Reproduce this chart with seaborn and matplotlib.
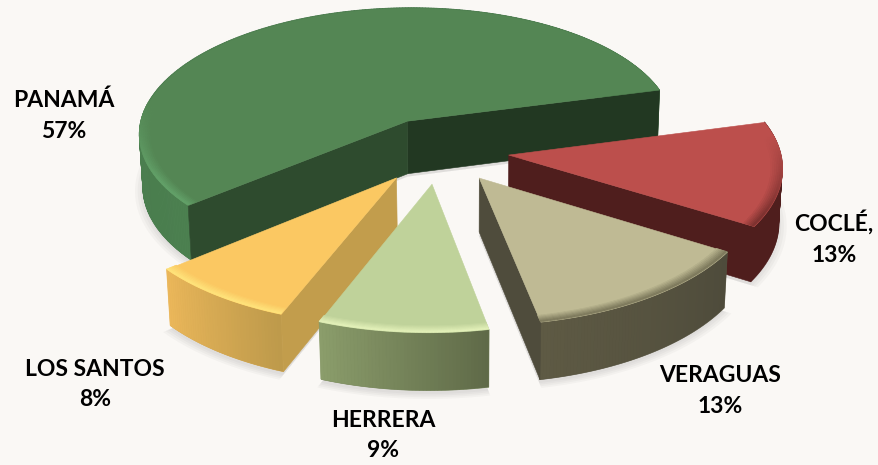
import numpy as np
import matplotlib
matplotlib.use("Agg")
import matplotlib.pyplot as plt
from matplotlib.colors import to_rgb
from mpl_toolkits.mplot3d.art3d import Poly3DCollection
import seaborn as sns

categories = ["PANAMÁ", "LOS SANTOS", "HERRERA", "VERAGUAS", "COCLÉ,"]
values = [57, 8, 9, 13, 13]

top_colors = ["#548654", "#FBC862", "#BFD29A", "#BFBA94", "#BC4F4C"]
rim_colors = ["#62A068", "#FFE27A", "#E2F0B8", "#7F7B5E", "#7E3230"]
arc_start = ["#3F6F44", "#EBB75A", "#8B9D6B", "#5E5A44", "#4F1E1D"]
arc_end = ["#4C8050", "#BE9A4B", "#5F6A48", "#4E4B3B", "#4F1E1D"]
wall_start = ["#223822", None, None, "#4F4C3C", "#4F1E1D"]
wall_end = ["#2E4B2E", "#C29D4C", None, None, None]
draw_rank = [1, 3, 5, 4, 2]
label_px = [(64, 116), (95, 384.5), (383, 435.5), (720, 391), (834, 238)]

W, H = 879, 465
BG = "#FAF8F5"
START = 15.0
EXPLODE = 0.26
DEPTH = 0.225
RIM = 0.04
SHIFT_X, SHIFT_Y = 14, 58

sns.set_theme(style="white")
plt.rcParams["font.family"] = ["Lato", "DejaVu Sans"]
palette = sns.color_palette(top_colors)

fig = plt.figure(figsize=(W / 100, H / 100), dpi=100, facecolor=BG)
ax = fig.add_axes([SHIFT_X / W, ((H - W) / 2 + SHIFT_Y) / H, 1, W / H], projection="3d", computed_zorder=False)
ax.set_proj_type("persp", focal_length=0.55)
ax.view_init(elev=28.5, azim=-90)
ax.set_axis_off()
ax.patch.set_alpha(0)
CX, CY = 0.1, -0.1
SPAN = 1.45
ax.set_xlim(CX - SPAN, CX + SPAN)
ax.set_ylim(CY - SPAN, CY + SPAN)
ax.set_zlim(-SPAN, SPAN)
ax.set_box_aspect((1, 1, 1), zoom=1.52)


def mix(a, b, t):
    a, b = np.array(to_rgb(a)), np.array(to_rgb(b))
    return tuple(a + (b - a) * t)


def add(polys, colors, z, alpha=None, lw=0.0):
    pc = Poly3DCollection(polys, facecolors=colors, edgecolors=colors if lw else "none",
                          linewidths=lw, zorder=z, alpha=alpha)
    ax.add_collection3d(pc)


shares = np.array(values) / sum(values) * 360
angle = START
for i, share in enumerate(shares):
    a0, a1 = np.radians(angle), np.radians(angle + share)
    angle += share
    mid = (a0 + a1) / 2
    ox, oy = EXPLODE * np.cos(mid), EXPLODE * np.sin(mid)
    th = np.linspace(a0, a1, max(24, int(share * 1.5)))
    px = lambda r, t: ox + r * np.cos(t)
    py = lambda r, t: oy + r * np.sin(t)
    base = draw_rank[i] * 20

    # soft floor shadow
    for k, grow in enumerate([1.03, 1.02, 1.01, 1.0]):
        shadow = [[(ox, oy, -DEPTH - 0.015)] + [(px(grow, t), py(grow, t), -DEPTH - 0.015) for t in th]]
        add(shadow, [(0.45, 0.45, 0.45)], base - 6 + k, alpha=0.05)

    # outer wall: a solid band first, then one facet per step
    band = [(px(1, t), py(1, t), 0) for t in th] + [(px(1, t), py(1, t), -DEPTH) for t in th[::-1]]
    add([band], [mix(arc_start[i], arc_end[i], 0.5)], base, lw=0.4)
    facets, shades = [], []
    for j in range(len(th) - 1):
        t0, t1 = th[j], th[j + 1]
        facets.append([(px(1, t0), py(1, t0), 0), (px(1, t1), py(1, t1), 0),
                       (px(1, t1), py(1, t1), -DEPTH), (px(1, t0), py(1, t0), -DEPTH)])
        shades.append(mix(arc_start[i], arc_end[i], j / (len(th) - 2)))
    add(facets, shades, base + 1, lw=0.5)

    # radial walls that face the viewer
    if wall_start[i]:
        add([[(ox, oy, 0), (px(1, a0), py(1, a0), 0), (px(1, a0), py(1, a0), -DEPTH), (ox, oy, -DEPTH)]],
            [wall_start[i]], base + 2, lw=0.4)
    if wall_end[i]:
        add([[(ox, oy, 0), (px(1, a1), py(1, a1), 0), (px(1, a1), py(1, a1), -DEPTH), (ox, oy, -DEPTH)]],
            [wall_end[i]], base + 3, lw=0.4)

    # top face
    top = [(ox, oy, 0)] + [(px(1, t), py(1, t), 0) for t in th]
    add([top], [palette[i]], base + 4, lw=0.4)

    # bevel along the outer edge, fading out towards the back of the pie
    levels = np.linspace(1 - RIM, 1, 7)
    for n in range(len(levels) - 1):
        r0, r1 = levels[n], levels[n + 1]
        strip, colours = [], []
        for j in range(len(th) - 1):
            t0, t1 = th[j], th[j + 1]
            if np.sin((t0 + t1) / 2) > 0.15:
                continue
            strength = np.clip((0.15 - np.sin((t0 + t1) / 2)) / 0.6, 0, 1)
            strip.append([(px(r0, t0), py(r0, t0), 0), (px(r0, t1), py(r0, t1), 0),
                          (px(r1, t1), py(r1, t1), 0), (px(r1, t0), py(r1, t0), 0)])
            colours.append(mix(top_colors[i], rim_colors[i], strength * (n + 1) / (len(levels) - 1)))
        if strip:
            add(strip, colours, base + 5 + n, lw=0.5)

for cat, val, (x, y) in zip(categories, values, label_px):
    fig.text(x / W, 1 - y / H, f"{cat}\n{val}%", ha="center", va="center", fontsize=16.5,
             fontweight="bold", color="black", linespacing=1.58)

fig.savefig("out.png", dpi=100, facecolor=BG)
